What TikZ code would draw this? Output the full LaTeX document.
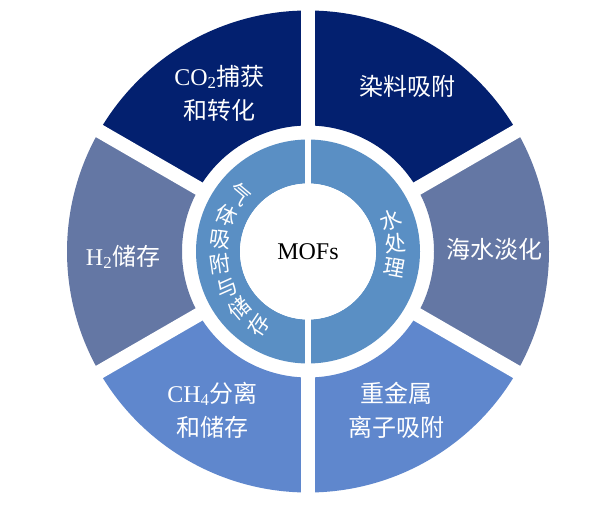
\documentclass[tikz,border=0pt]{standalone}
\usepackage{fontspec}
\setmainfont{Liberation Serif}
\newfontfamily\cjk{Noto Sans CJK SC}
\usepackage{tikz}
\definecolor{navysec}{HTML}{03206F}
\definecolor{slatesec}{HTML}{6477A4}
\definecolor{bluesec}{HTML}{5F87CD}
\definecolor{ringblue}{HTML}{5A8FC4}
\newcommand*\rout {241}
\newcommand*\rmid {126}
\newcommand*\rring{112}
\newcommand*\rcore{68}
\newcommand*\lat[1]{{\rmfamily #1}}
\tikzset{
    sector/.style      = {draw=none},
    navysector/.style  = {sector,fill=navysec},
    slatesector/.style = {sector,fill=slatesec},
    bluesector/.style  = {sector,fill=bluesec},
    ringband/.style    = {fill=ringblue,even odd rule},
    gapline/.style     = {draw=white,line width=14pt},
    ringgap/.style     = {draw=white,line width=6pt},
    sectortext/.style  = {text=white,align=center,inner sep=0pt,
                          font=\fontsize{24}{34}\selectfont\cjk},
    ringchar/.style    = {text=white,inner sep=0pt,
                          font=\fontsize{21.5}{21.5}\selectfont\cjk},
    coretext/.style    = {text=black,inner sep=0pt,
                          font=\fontsize{24}{28}\selectfont},
}
\begin{document}
\begin{tikzpicture}[x=1pt,y=1pt]
    \useasboundingbox[fill=white] (0,0) rectangle (607,506);
    \begin{scope}[shift={(308,254.5)}]
    % Outer ring: six sectors
    \foreach \a/\b/\s in {30/90/navysector, 90/150/navysector,
                          150/210/slatesector, 210/270/bluesector,
                          270/330/bluesector, -30/30/slatesector} {
        \fill[\s] (\a:\rmid) arc[start angle=\a, end angle=\b, radius=\rmid]
            -- (\b:\rout) arc[start angle=\b, end angle=\a, radius=\rout] -- cycle;
    }
    % white gaps between the sectors
    \foreach \a in {30,90,...,330} {
        \draw[gapline] (\a:119) -- (\a:250);
    }

    % Inner ring, split in two halves
    \fill[ringband] (0,0) circle[radius=\rring] (0,0) circle[radius=\rcore];
    \draw[ringgap] (90:119) -- (270:119);
    \fill[white] (0,0) circle[radius=\rcore];

    % Centre
    \node[coretext] (mofs) at (0,0) {MOFs};

    % Sector labels
    \node[sectortext] (co2)   at (119.2:181.5) {\lat{CO\textsubscript{2}}捕获\\和转化};
    \node[sectortext] (dye)   at (58.9:192.5)  {染料吸附};
    \node[sectortext] (htwo)  at (181.7:185)   {\lat{H\textsubscript{2}}储存};
    \node[sectortext] (desal) at (0.5:187)     {海水淡化};
    \node[sectortext] (ch4)   at (238.9:185)   {\lat{CH\textsubscript{4}}分离\\和储存};
    \node[sectortext] (metal) at (299:182)     {重金属\\离子吸附};

    % Ring labels, one character at a time along the arc
    \foreach \c [count=\i from 0] in {气,体,吸,附,与,储,存} {
        \pgfmathsetmacro\ang{140+16*\i}
        \node[ringchar, rotate=\ang-180] (gas\i) at (\ang:89) {\c};
    }
    \foreach \c [count=\i from 0] in {水,处,理} {
        \pgfmathsetmacro\ang{21-15.7*\i}
        \node[ringchar, rotate=\ang] (water\i) at (\ang:88) {\c};
    }
    \end{scope}
\end{tikzpicture}
\end{document}
